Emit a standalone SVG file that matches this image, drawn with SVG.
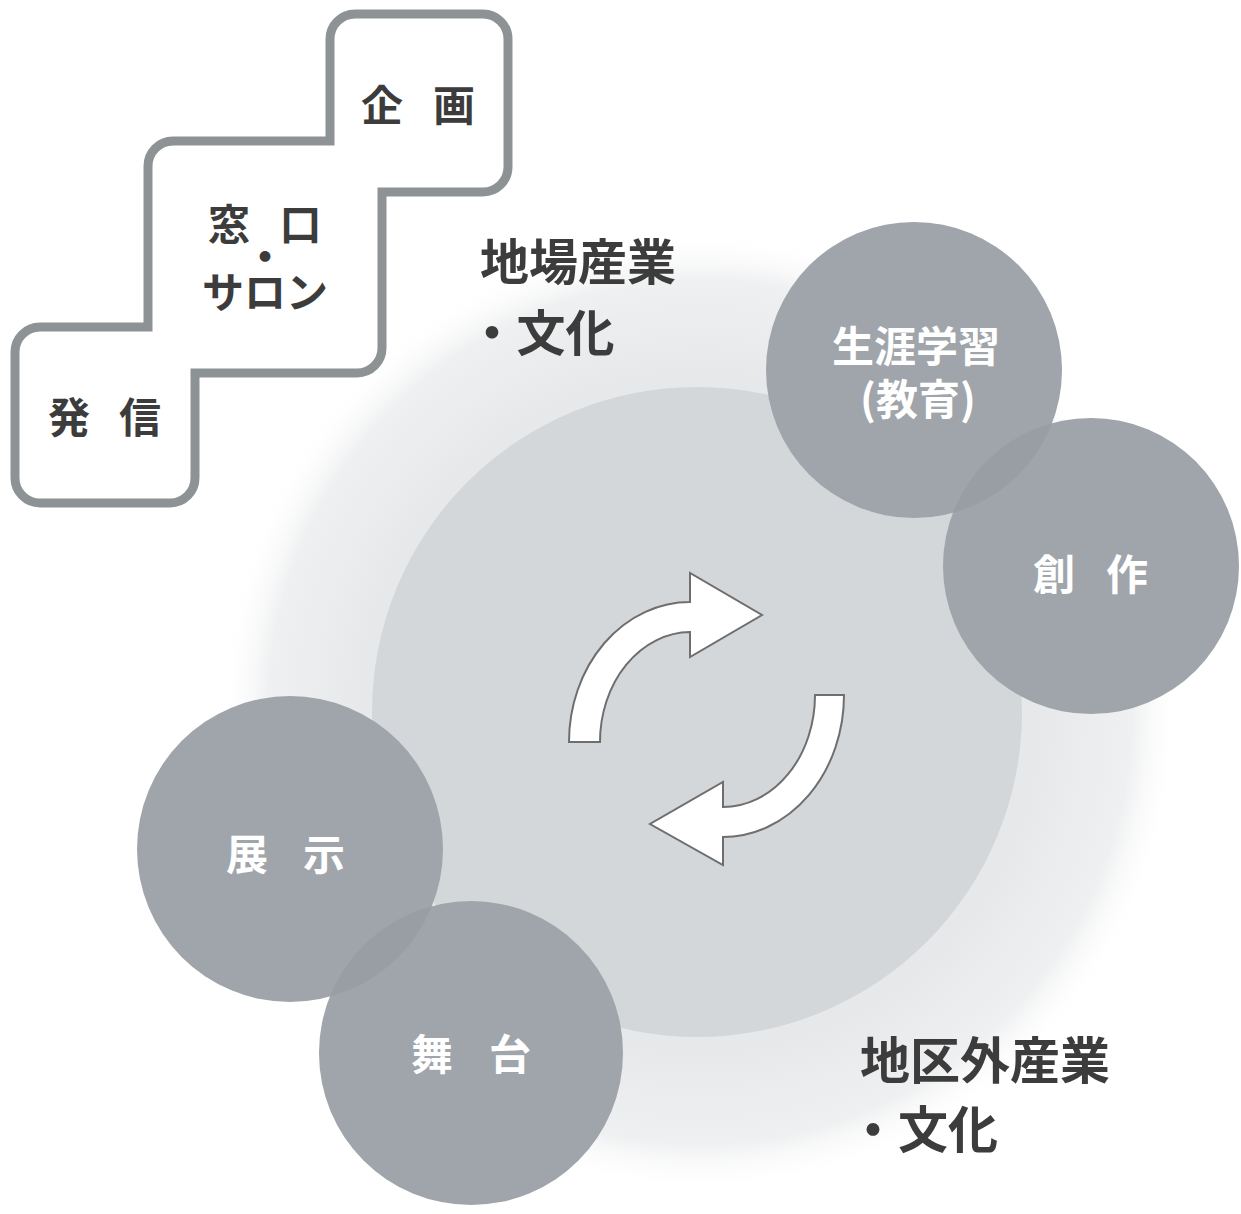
<svg xmlns="http://www.w3.org/2000/svg" width="1241" height="1214" viewBox="0 0 1241 1214">
  <style>
    .dark { font-family: "Noto Sans CJK JP", "Noto Sans", sans-serif; font-weight: 700; fill: #3c3c3c; }
    .white { font-family: "Noto Sans CJK JP", "Noto Sans", sans-serif; font-weight: 700; fill: #ffffff; }
    .bubble { fill: #a0a5ab; }
    .lens { fill: #999ea4; }
    .arrow { fill: #ffffff; stroke: #6e6e6e; stroke-width: 2; stroke-linejoin: miter; }
  </style>
  <defs>
    <radialGradient id="outerGlow" cx="700" cy="712" r="480" gradientUnits="userSpaceOnUse">
      <stop offset="0" stop-color="#e3e5e7"/>
      <stop offset="0.7" stop-color="#e7e8ea"/>
      <stop offset="0.9" stop-color="#eff0f1"/>
      <stop offset="1" stop-color="#ffffff" stop-opacity="0"/>
    </radialGradient>
    <clipPath id="clipLearn"><circle cx="914" cy="370" r="148"/></clipPath>
    <clipPath id="clipShow"><circle cx="290" cy="849" r="153"/></clipPath>
  </defs>

  <rect width="1241" height="1214" fill="#ffffff"/>

  <!-- background areas -->
  <g id="outer-area">
    <circle cx="700" cy="712" r="480" fill="url(#outerGlow)"/>
  </g>
  <g id="inner-area">
    <circle cx="697" cy="712" r="325" fill="#d4d7da"/>
  </g>

  <!-- staircase -->
  <g id="staircase">
    <path d="M 355 14 H 483 A 25 25 0 0 1 508 39 V 167 A 25 25 0 0 1 483 192 H 382 V 348 A 25 25 0 0 1 357 373 H 195 V 478 A 25 25 0 0 1 170 503 H 40 A 25 25 0 0 1 15 478 V 352 A 25 25 0 0 1 40 327 H 148 V 166 A 25 25 0 0 1 173 141 H 330 V 39 A 25 25 0 0 1 355 14 Z" fill="#ffffff" stroke="#8d9295" stroke-width="9"/>
  </g>
  <g id="node-kikaku">
    <text class="dark" font-size="42" x="361 403 433" y="121">企 画</text>
  </g>
  <g id="node-madoguchi">
    <text class="dark" font-size="42"><tspan x="208 250 279.5" y="240">窓 口</tspan><tspan x="265" y="272" text-anchor="middle">・</tspan><tspan x="265" y="308" text-anchor="middle">サロン</tspan></text>
  </g>
  <g id="node-hasshin">
    <text class="dark" font-size="42" x="48 90 119" y="433">発 信</text>
  </g>

  <!-- outer labels -->
  <g id="label-local">
    <text class="dark" font-size="49"><tspan x="480" y="280">地場産業</tspan><tspan x="467.5" y="351">・文化</tspan></text>
  </g>
  <g id="label-outside">
    <text class="dark" font-size="50"><tspan x="860" y="1079">地区外産業</tspan><tspan x="848" y="1148">・文化</tspan></text>
  </g>

  <!-- bubbles -->
  <g id="node-learning">
    <circle class="bubble" cx="914" cy="370" r="148"/>
  </g>
  <g id="node-creation">
    <circle class="bubble" cx="1091" cy="566" r="148"/>
    <circle class="lens" cx="1091" cy="566" r="148" clip-path="url(#clipLearn)"/>
    <text class="white" font-size="42" x="1033 1075 1106" y="590">創 作</text>
  </g>
  <g id="node-learning-label">
    <text class="white" font-size="42" text-anchor="middle"><tspan x="916" y="362">生涯学習</tspan><tspan x="918" y="415">(教育)</tspan></text>
  </g>
  <g id="node-exhibit">
    <circle class="bubble" cx="290" cy="849" r="153"/>
  </g>
  <g id="node-stage">
    <circle class="bubble" cx="471" cy="1053" r="152"/>
    <circle class="lens" cx="471" cy="1053" r="152" clip-path="url(#clipShow)"/>
    <text class="white" font-size="42" x="411 453 489" y="1070">舞 台</text>
  </g>
  <g id="node-exhibit-label">
    <text class="white" font-size="42" x="226 268 303" y="870">展 示</text>
  </g>

  <!-- cycle arrows -->
  <g id="connectors">
    <path class="arrow" d="M 569 742 A 121 140 0 0 1 690 602 L 690 573 L 762 615 L 690 657 L 690 632 A 91 110 0 0 0 600 742 Z"/>
    <path class="arrow" d="M 844 695 A 121 142 0 0 1 723 837 L 723 865 L 650 824 L 723 782 L 723 807 A 92 112 0 0 0 815 695 Z"/>
  </g>
</svg>
